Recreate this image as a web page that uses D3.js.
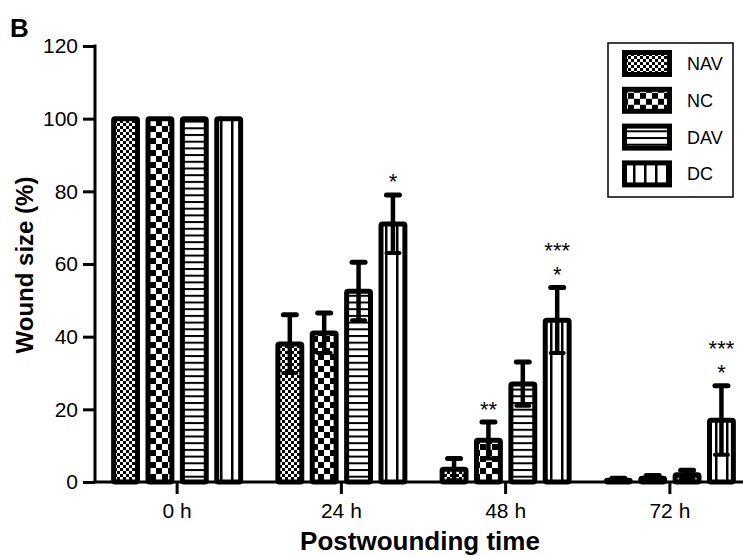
<!DOCTYPE html>
<html>
<head>
<meta charset="utf-8">
<script src="https://cdn.jsdelivr.net/npm/d3@7"></script>
<style>
  body { margin: 0; background: #fff; }
  text { font-family: Arial, "Liberation Sans", sans-serif; fill: #000; }
</style>
</head>
<body>
<script>
// chart values
var categories = ["0 h", "24 h", "48 h", "72 h"];
var groups = ["NAV", "NC", "DAV", "DC"];
var navMean = [100, 38, 3.5, 0.5];
var navErr  = [0, 8, 3, 0.5];
var ncMean  = [100, 41, 11.5, 1];
var ncErr   = [0, 5.5, 5, 0.8];
var davMean = [100, 52.5, 27, 2];
var davErr  = [0, 8, 6, 1.2];
var dcMean  = [100, 71, 44.5, 17];
var dcErr   = [0, 8, 9, 9.5];
// significance marks, first row just above the cap, second row above that
var ncStars    = ["", "", "**", ""];
var dcStars    = ["", "*", "*", "*"];
var dcStarsTop = ["", "", "***", "***"];
var yTicks = [0, 20, 40, 60, 80, 100, 120];

var means = {NAV: navMean, NC: ncMean, DAV: davMean, DC: dcMean};
var errs = {NAV: navErr, NC: ncErr, DAV: davErr, DC: dcErr};
var stars = {NAV: ["", "", "", ""], NC: ncStars, DAV: ["", "", "", ""], DC: dcStars};
var starsTop = {NAV: ["", "", "", ""], NC: ["", "", "", ""], DAV: ["", "", "", ""], DC: dcStarsTop};

var rows = [];
categories.forEach(function(c, i) {
  groups.forEach(function(g) {
    rows.push({cat: c, group: g, mean: means[g][i], err: errs[g][i],
               star: stars[g][i], starTop: starsTop[g][i]});
  });
});

var width = 743, height = 557;
var svg = d3.select("body").append("svg")
    .attr("width", width)
    .attr("height", height);

/* fill patterns for the four groups */
var defs = svg.append("defs");
function pattern(id, w, h) {
  var p = defs.append("pattern").attr("id", id)
      .attr("patternUnits", "userSpaceOnUse")
      .attr("width", w).attr("height", h);
  p.append("rect").attr("width", w).attr("height", h).attr("fill", "#fff");
  return p;
}
var pNAV = pattern("pNAV", 6, 6);
pNAV.append("rect").attr("width", 3).attr("height", 3).attr("fill", "#000");
pNAV.append("rect").attr("x", 3).attr("y", 3).attr("width", 3).attr("height", 3).attr("fill", "#000");
var pNC = pattern("pNC", 12, 12);
pNC.append("rect").attr("width", 6).attr("height", 6).attr("fill", "#000");
pNC.append("rect").attr("x", 6).attr("y", 6).attr("width", 6).attr("height", 6).attr("fill", "#000");
var pDAV = pattern("pDAV", 8, 6.7);
pDAV.append("rect").attr("width", 8).attr("height", 2).attr("fill", "#000");
var pDC = pattern("pDC", 11, 8);
pDC.append("rect").attr("width", 2.5).attr("height", 8).attr("fill", "#000");

// scales
var x0 = d3.scaleBand().domain(categories).range([95, 752]);
var x1 = d3.scaleBand().domain(groups).range([-66, 66]).paddingInner(0.16);
var y = d3.scaleLinear().domain([0, 120]).range([482, 46]);

var sw = 5; // bar outline width

// bars
var bars = svg.append("g").attr("id", "bars");
bars.selectAll("rect")
  .data(rows)
  .enter()
  .append("rect")
  .attr("x", function(d) { return x0(d.cat) + x0.bandwidth() / 2 + x1(d.group) + sw / 2; })
  .attr("width", x1.bandwidth() - sw)
  .attr("y", function(d) { return y(d.mean); })
  .attr("height", function(d) { return y(0) - y(d.mean); })
  .attr("rx", 1.5)
  .attr("fill", function(d) { return "url(#p" + d.group + ")"; })
  .attr("stroke", "#000")
  .attr("stroke-width", sw);

function cx(d) { return x0(d.cat) + x0.bandwidth() / 2 + x1(d.group) + x1.bandwidth() / 2; }

// error bars (drawn both ways, lower part over the pattern)
var eb = svg.append("g").attr("id", "errorbars")
  .selectAll("g")
  .data(rows.filter(function(d) { return d.err > 0; }))
  .enter()
  .append("g")
  .attr("stroke", "#000");
eb.append("line")
  .attr("x1", cx).attr("x2", cx)
  .attr("y1", function(d) { return y(d.mean + d.err); })
  .attr("y2", function(d) { return y(Math.max(0, d.mean - d.err)); })
  .attr("stroke-width", 4.5);
eb.append("line")
  .attr("x1", function(d) { return cx(d) - 6.5; })
  .attr("x2", function(d) { return cx(d) + 6.5; })
  .attr("y1", function(d) { return y(d.mean + d.err); })
  .attr("y2", function(d) { return y(d.mean + d.err); })
  .attr("stroke-width", 5)
  .attr("stroke-linecap", "round");
eb.append("line")
  .attr("x1", function(d) { return cx(d) - 6.5; })
  .attr("x2", function(d) { return cx(d) + 6.5; })
  .attr("y1", function(d) { return y(Math.max(0, d.mean - d.err)); })
  .attr("y2", function(d) { return y(Math.max(0, d.mean - d.err)); })
  .attr("stroke-width", 4)
  .attr("stroke-linecap", "round");

// stars
var st = svg.append("g").attr("id", "stars").style("font-size", "22px").attr("text-anchor", "middle");
st.selectAll(".s1")
  .data(rows.filter(function(d) { return d.star; }))
  .enter().append("text")
  .attr("x", cx)
  .attr("y", function(d) { return y(d.mean + d.err) - 5.5; })
  .text(function(d) { return d.star; });
st.selectAll(".s2")
  .data(rows.filter(function(d) { return d.starTop; }))
  .enter().append("text")
  .attr("x", cx)
  .attr("y", function(d) { return y(d.mean + d.err) - 29.5; })
  .text(function(d) { return d.starTop; });

// axes
var yAxis = svg.append("g")
  .attr("transform", "translate(95,0)")
  .call(d3.axisLeft(y).tickValues(yTicks).tickSize(12).tickSizeOuter(0).tickPadding(5));
var xAxis = svg.append("g")
  .attr("transform", "translate(0," + y(0) + ")")
  .call(d3.axisBottom(x0).tickSize(12).tickSizeOuter(0).tickPadding(9));
[yAxis, xAxis].forEach(function(a) {
  a.select(".domain").attr("stroke-width", 3).attr("stroke", "#000");
  a.selectAll(".tick line").attr("stroke-width", 3).attr("stroke", "#000");
  a.selectAll(".tick text").style("font-size", "21px")
    .style("font-family", "Arial, 'Liberation Sans', sans-serif").attr("fill", "#000");
});
yAxis.select(".domain").attr("d", "M0," + y(0) + "V" + (y(120) - 1.5));
xAxis.select(".domain").attr("d", "M93.5,0H" + width);

// axis titles
svg.append("text")
  .attr("x", 420).attr("y", 550)
  .attr("text-anchor", "middle")
  .style("font-size", "26px").style("font-weight", "bold")
  .text("Postwounding time");
svg.append("text")
  .attr("transform", "translate(33,265) rotate(-90)")
  .attr("text-anchor", "middle")
  .style("font-size", "24px").style("font-weight", "bold")
  .text("Wound size (%)");
svg.append("text")
  .attr("x", 10).attr("y", 37)
  .style("font-size", "26px").style("font-weight", "bold")
  .text("B");

// legend
var legend = svg.append("g").attr("id", "legend");
legend.append("rect")
  .attr("x", 608).attr("y", 43).attr("width", 125).attr("height", 154)
  .attr("fill", "#fff").attr("stroke", "#000").attr("stroke-width", 1.5);
var item = legend.selectAll(".item")
  .data(groups)
  .enter().append("g")
  .attr("transform", function(d, i) { return "translate(622," + (50 + i * 36.8) + ")"; });
item.append("rect").attr("width", 50).attr("height", 27).attr("fill", "#000");
item.append("rect").attr("x", 5).attr("y", 5).attr("width", 40).attr("height", 17)
  .attr("fill", function(d) { return "url(#p" + d + ")"; });
item.append("text")
  .attr("x", 65).attr("y", 13.5).attr("dy", "0.36em")
  .style("font-size", "18px")
  .text(function(d) { return d; });
</script>
</body>
</html>
